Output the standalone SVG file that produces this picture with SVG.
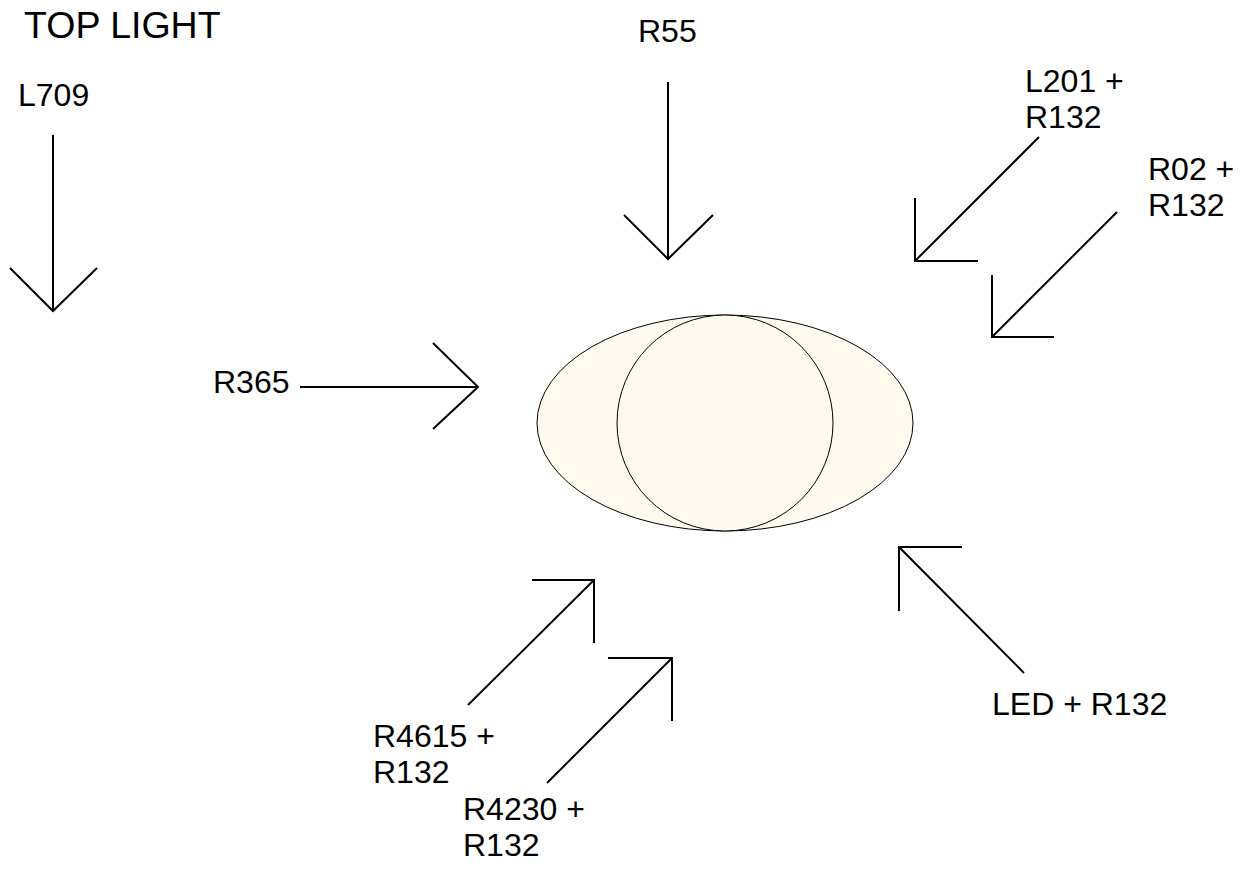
<svg xmlns="http://www.w3.org/2000/svg" width="1241" height="874" viewBox="0 0 1241 874">
<style>
text{font-family:"Liberation Sans",Arial,sans-serif;font-size:32px;fill:#000}
.title{font-size:37.5px}
.arr{fill:none;stroke:#000;stroke-width:2;stroke-linecap:butt;stroke-linejoin:miter}
.body{fill:#FFFAF0;stroke:#000;stroke-width:1}
</style>
<rect width="1241" height="874" fill="#fff"/>
<g id="lamp">
<ellipse class="body" cx="725" cy="423" rx="188" ry="108"/>
<circle class="body" cx="725" cy="423" r="108"/>
</g>
<g id="labels">
<text class="title" x="24" y="38">TOP LIGHT</text>
<text x="18" y="106">L709</text>
<text x="638" y="42">R55</text>
<text x="1025" y="92">L201 +</text>
<text x="1025" y="128">R132</text>
<text x="1148" y="180">R02 +</text>
<text x="1148" y="216">R132</text>
<text x="213" y="393">R365</text>
<text x="992" y="715">LED + R132</text>
<text x="373" y="747">R4615 +</text>
<text x="373" y="783">R132</text>
<text x="463" y="820">R4230 +</text>
<text x="463" y="856">R132</text>
</g>
<g id="connectors">
<path class="arr" d="M53 135V311M10 268L53 311L97 268"/>
<path class="arr" d="M668 82V259M624 215L668 259L713 215"/>
<path class="arr" d="M1039 137L915 261M915 198V261H978"/>
<path class="arr" d="M1117 212L992 337M992 275V337H1054"/>
<path class="arr" d="M300 387H478M433 343L478 387L433 429"/>
<path class="arr" d="M1024 673L899 547M899 611V547H962"/>
<path class="arr" d="M468 705L594 580M532 580H594V643"/>
<path class="arr" d="M547 783L672 658M608 658H672V721"/>
</g>
</svg>
